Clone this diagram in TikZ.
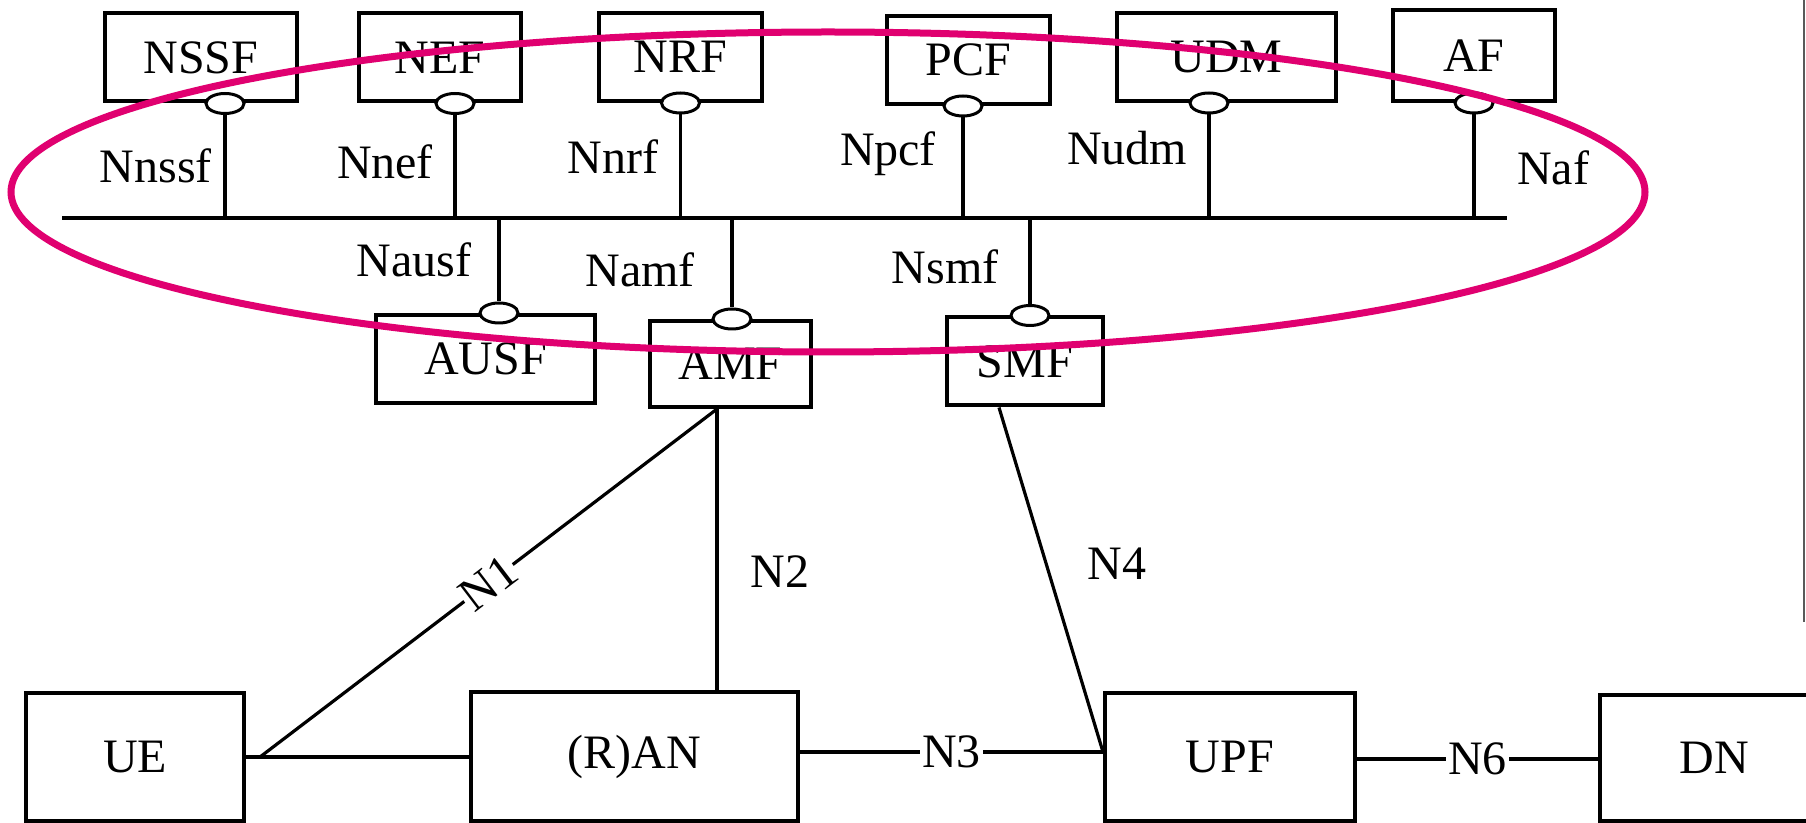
\documentclass[tikz,border=0pt]{standalone}
\usepackage{fontspec}
\setmainfont{Liberation Serif}
\usetikzlibrary{shapes.geometric,calc}
\definecolor{ringmag}{RGB}{224,0,112}
\tikzset{
  nfbox/.style={draw, line width=2pt, inner sep=0pt, minimum height=44pt, font=\fontsize{24}{28}\selectfont},
  lolli/.style={ellipse, draw, fill=white, line width=1.5pt, minimum width=19pt, minimum height=10pt, inner sep=0pt},
  conn/.style={line width=1.6pt},
  lbl/.style={font=\fontsize{24}{28}\selectfont, inner sep=1pt},
  lblw/.style={font=\fontsize{24}{28}\selectfont, fill=white, inner sep=1pt},
}
\begin{document}
\begin{tikzpicture}[x=0.5pt, y=-0.5pt]
\useasboundingbox (0,0) rectangle (1806,823);
\fill[white] (0,0) rectangle (1806,823);
% upper NF boxes
\node[nfbox, minimum width=96pt] (NSSF) at (201,57.5) {NSSF};
\node[nfbox, minimum width=81pt] (NEF) at (440,57.5) {NEF};
\node[nfbox, minimum width=81.5pt] (NRF) at (680.5,57) {NRF};
\node[nfbox, minimum width=81.5pt] (PCF) at (968.5,60) {PCF};
\node[nfbox, minimum width=109.5pt] (UDM) at (1226.5,57) {UDM};
\node[nfbox, minimum width=81pt, minimum height=45.5pt] (AF) at (1474,55.5) {AF};
% lower NF boxes
\node[nfbox, minimum width=109.5pt] (AUSF) at (485.5,359) {AUSF};
\node[nfbox, minimum width=80.5pt, minimum height=43pt] (AMF) at (730.5,364) {AMF};
\node[nfbox, minimum width=78pt] (SMF) at (1025,361.5) {SMF};
% bottom row
\node[nfbox, minimum width=109pt, minimum height=64pt] (UE) at (135,757) {UE};
\node[nfbox, minimum width=163.5pt, minimum height=64.5pt] (RAN) at (634.5,756.5) {(R)AN};
\node[nfbox, minimum width=125pt, minimum height=64pt] (UPF) at (1230,757) {UPF};
\node[nfbox, minimum width=114pt, minimum height=63pt] (DN) at (1714,758) {DN};
% service bus
\coordinate (busL) at (62,218);
\coordinate (busR) at (1507,218);
\draw[line width=2pt] (busL) -- (busR);
% lollipops (upper)
\node[lolli] (oNSSF) at ([xshift=12pt]NSSF.south) {};
\node[lolli] (oNEF) at ([xshift=7.5pt]NEF.south) {};
\node[lolli] (oNRF) at (NRF.south) {};
\node[lolli] (oPCF) at ([xshift=-2.75pt]PCF.south) {};
\node[lolli] (oUDM) at ([xshift=-8.75pt]UDM.south) {};
\node[lolli] (oAF) at (AF.south) {};
\foreach \o in {oNSSF,oNEF,oNRF,oPCF,oUDM,oAF}{
  \draw[conn] (\o.south) -- (\o.south |- busL);
}
% lollipops (lower)
\node[lolli] (oAUSF) at ([xshift=6.75pt]AUSF.north) {};
\node[lolli] (oAMF) at ([xshift=0.75pt]AMF.north) {};
\node[lolli] (oSMF) at ([xshift=2.5pt]SMF.north) {};
\foreach \o in {oAUSF,oAMF,oSMF}{
  \draw[conn] (\o.north) -- (\o.north |- busL);
}
% service interface labels
\node[lbl] (lNnssf) at (156,166) {Nnssf};
\node[lbl] (lNnef) at (385,162) {Nnef};
\node[lbl] (lNnrf) at (613,157) {Nnrf};
\node[lbl] (lNpcf) at (888,154) {Npcf};
\node[lbl] (lNudm) at (1127,148) {Nudm};
\node[lbl] (lNaf) at (1553,168) {Naf};
\node[lbl] (lNausf) at (414,260) {Nausf};
\node[lbl] (lNamf) at (640,270) {Namf};
\node[lbl] (lNsmf) at (945,267) {Nsmf};
% reference points
\coordinate (n1s) at ([xshift=7pt]UE.east);
\coordinate (amfb) at ([xshift=-6.75pt]AMF.south);
\coordinate (smfb) at ([xshift=-13pt]SMF.south);
\coordinate (upfw) at ([yshift=2.5pt]UPF.west);
\draw[conn] (UE.east) -- (UE.east -| RAN.west);
\draw[conn] (n1s) -- node[lblw, sloped, pos=0.5, inner sep=0.5pt] {N1} (amfb);
\draw[conn] (amfb) -- (amfb |- RAN.north);
\node[lbl] (lN2) at (780,572) {N2};
\draw[conn] (smfb) -- (upfw);
\node[lbl] (lN4) at (1117,564) {N4};
\draw[line width=2pt] (upfw -| RAN.east) -- node[lblw] {N3} (upfw);
\draw[line width=2pt] ([yshift=-1pt]UPF.east) -- node[lblw] {N6} ([yshift=-1pt]UPF.east -| DN.west);
% right frame edge
\draw[gray!70!black, line width=0.8pt] (1804,0) -- (1804,622);
% highlight ring
\draw[ringmag, line width=3.5pt] (828,192) ellipse [x radius=408.5pt, y radius=80pt];
\end{tikzpicture}
\end{document}
